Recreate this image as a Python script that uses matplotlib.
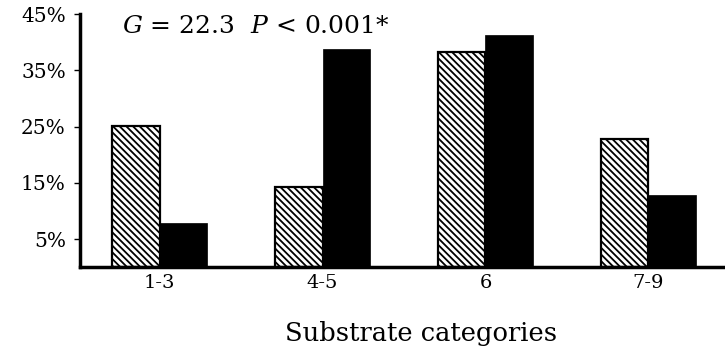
import matplotlib
matplotlib.use("Agg")
import matplotlib.pyplot as plt
import numpy as np

plt.rcParams['font.family'] = ['DejaVu Serif']
plt.rcParams['mathtext.fontset'] = 'dejavuserif'
plt.rcParams['hatch.linewidth'] = 1.3

categories = ["1-3", "4-5", "6", "7-9"]
hatched_vals = [25.1, 14.2, 38.3, 22.8]
solid_vals = [7.8, 38.7, 41.2, 12.9]
ytick_vals = [5, 15, 25, 35, 45]
ytick_labels = ["5%", "15%", "25%", "35%", "45%"]

fig = plt.figure(figsize=(7.25, 3.5), dpi=100)
ax = fig.add_axes([0.110, 0.236, 0.890, 0.724])

x = np.arange(len(categories))
w = 0.29
ax.bar(x - w / 2, hatched_vals, width=w, facecolor="white", edgecolor="black",
       linewidth=1.6, hatch="\\" * 5)
ax.bar(x + w / 2, solid_vals, width=w, facecolor="black", edgecolor="black",
       linewidth=0.5)

ax.set_xlim(-0.49, 3.47)
ax.set_ylim(0, 45)
ax.set_xticks(x)
ax.set_xticklabels(categories, fontsize=14)
ax.set_yticks(ytick_vals)
ax.set_yticklabels(ytick_labels, fontsize=14.5)
ax.tick_params(axis="x", length=0, pad=5)
ax.tick_params(axis="y", length=4, width=1, pad=6)

for side in ("top", "right"):
    ax.spines[side].set_visible(False)
ax.spines["left"].set_linewidth(2.5)
ax.spines["bottom"].set_linewidth(2.5)

ax.text(0.066, 0.95, "$G$ = 22.3  $P$ < 0.001*", transform=ax.transAxes,
        fontsize=18, va="center", ha="left")

fig.text(0.581, 0.048, "Substrate categories", fontsize=18.5, ha="center", va="center")

fig.savefig("out.png", dpi=100)
